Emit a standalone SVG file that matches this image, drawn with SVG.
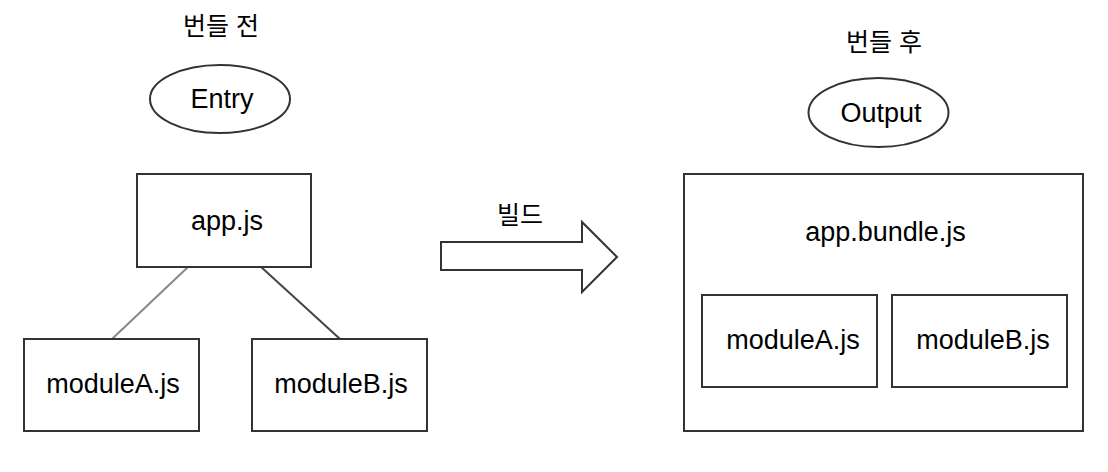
<svg xmlns="http://www.w3.org/2000/svg" width="1108" height="472" viewBox="0 0 1108 472">
<style>
.box{fill:#fff;stroke:#333;stroke-width:2}
.t{font-family:"Liberation Sans",Arial,sans-serif;font-size:27px;fill:#000;text-anchor:middle}
.k{font-family:"Liberation Sans","Noto Sans CJK KR",sans-serif;font-size:25px;fill:#000;text-anchor:middle}
</style>
<rect width="1108" height="472" fill="#fff"/>
<text class="k" x="221" y="35">번들 전</text>
<text class="k" x="884" y="51">번들 후</text>
<g id="connectors">
<line x1="188" y1="267" x2="112" y2="339" stroke="#888" stroke-width="2"/>
<line x1="260" y1="266" x2="340" y2="339" stroke="#444" stroke-width="2"/>
</g>
<g id="entry">
<ellipse class="box" cx="220" cy="99" rx="70" ry="34"/>
<text class="t" x="222" y="108">Entry</text>
</g>
<g id="appjs">
<rect class="box" x="137" y="174" width="174" height="93"/>
<text class="t" x="227" y="230">app.js</text>
</g>
<g id="moduleA">
<rect class="box" x="24" y="339" width="175" height="92"/>
<text class="t" x="113" y="393">moduleA.js</text>
</g>
<g id="moduleB">
<rect class="box" x="252" y="339" width="175" height="92"/>
<text class="t" x="341" y="393">moduleB.js</text>
</g>
<g id="build">
<polygon class="box" points="441,242 582,242 582,222 617,257 582,292 582,270 441,270"/>
<text class="k" x="520" y="224">빌드</text>
</g>
<g id="output">
<ellipse class="box" cx="878.5" cy="112.5" rx="70" ry="34.5"/>
<text class="t" x="881" y="122">Output</text>
</g>
<g id="bundle">
<rect class="box" x="684" y="174" width="399" height="257"/>
<text class="t" x="885.5" y="241">app.bundle.js</text>
</g>
<g id="bundleA">
<rect class="box" x="702" y="295" width="175" height="92"/>
<text class="t" x="793" y="349">moduleA.js</text>
</g>
<g id="bundleB">
<rect class="box" x="892" y="295" width="175" height="92"/>
<text class="t" x="983" y="349">moduleB.js</text>
</g>
</svg>
